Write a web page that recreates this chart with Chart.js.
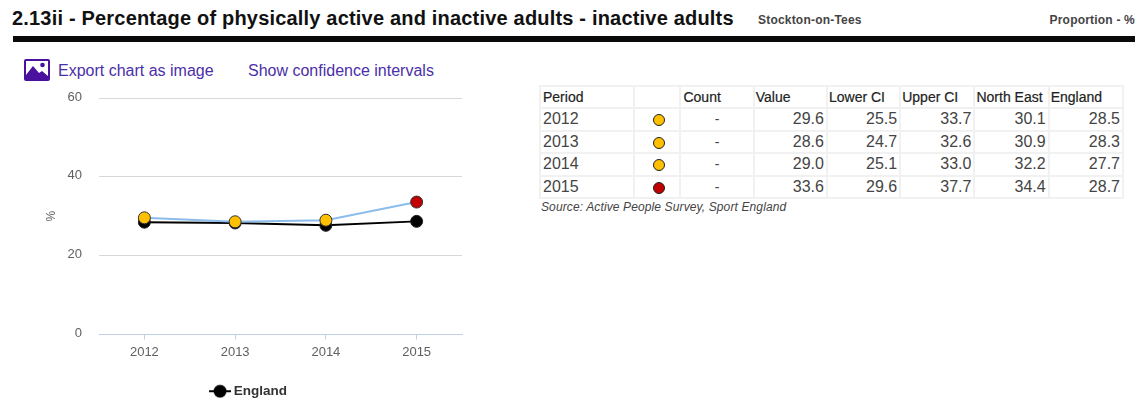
<!DOCTYPE html>
<html><head><meta charset="utf-8">
<script src="https://cdn.jsdelivr.net/npm/chart.js@4"></script>
<style>
html,body{margin:0;padding:0;background:#fff;width:1142px;height:400px;overflow:hidden;font-family:"Liberation Sans",Arial,sans-serif}
.abs{position:absolute;white-space:nowrap}
#title{left:12px;top:6px;font-size:20px;font-weight:bold;color:#111;letter-spacing:.19px;line-height:24px}
#area{left:758px;top:13px;font-size:12px;font-weight:bold;color:#444;line-height:14px;letter-spacing:.2px}
#unit{right:7px;top:13px;font-size:12px;font-weight:bold;color:#444;line-height:14px;letter-spacing:.2px}
#rule{left:13px;top:36px;width:1122px;height:6px;background:#0a0a0a}
.lnk{top:62px;font-size:16px;line-height:18px;color:#4b2fa8}
#icon{left:24px;top:59px}
#cv{position:absolute;left:0;top:68px}
table{position:absolute;left:539px;top:85px;border-collapse:separate;border-spacing:2px;font-size:16px;color:#444;table-layout:fixed;width:585px;background:#f1f1f1}
td,th{background:#fff;padding:0 2px;height:20.6px;line-height:20px;overflow:hidden;white-space:nowrap}
th{font-size:14px;height:19.6px;font-weight:normal;color:#222;text-align:left;-webkit-text-stroke:.2px #222;padding-left:1px}
th:first-child,th:nth-child(3){padding-left:2px}
td.n{text-align:right}td.c{text-align:center}
.dot{display:inline-block;width:10px;height:10px;border-radius:50%;border:1px solid #222;vertical-align:-1px;position:relative;left:2px;top:1px}
td.c{font-size:14px}
#src{left:541px;top:200px;font-size:12px;font-style:italic;color:#444;line-height:14px;letter-spacing:.12px}
</style></head><body>
<div class="abs" id="title">2.13ii - Percentage of physically active and inactive adults - inactive adults</div>
<div class="abs" id="area">Stockton-on-Tees</div>
<div class="abs" id="unit">Proportion - %</div>
<div class="abs" id="rule"></div>
<svg class="abs" id="icon" width="26" height="22" viewBox="0 0 26 22"><rect x="1" y="1" width="24" height="20" fill="#fff" stroke="#4a109e" stroke-width="2" rx="1"/><path d="M2 20V16L9 7l6 7 3-2 6 5v3z" fill="#4a109e"/><circle cx="18.5" cy="6" r="2.3" fill="#4a109e"/></svg>
<div class="abs lnk" style="left:58px">Export chart as image</div>
<div class="abs lnk" style="left:248px">Show confidence intervals</div>
<canvas id="cv" width="480" height="340" style="width:480px;height:340px"></canvas>
<table id="t"></table>
<div class="abs" id="src">Source: Active People Survey, Sport England</div>
<script>
const periods=["2012","2013","2014","2015"];
const counts=["-","-","-","-"];
const values=[29.6,28.6,29.0,33.6];
const lowerCI=[25.5,24.7,25.1,29.6];
const upperCI=[33.7,32.6,33.0,37.7];
const northEast=[30.1,30.9,32.2,34.4];
const england=[28.5,28.3,27.7,28.7];
const pointColours=["#ffc000","#ffc000","#ffc000","#c00000"];
const yTicks=[0,20,40,60];
const headers=["Period","","Count","Value","Lower CI","Upper CI","North East","England"];
const widths=[92,44,71,71,71,72,72,72];

const t=document.getElementById('t');
let h='<colgroup>'+widths.map(w=>`<col style="width:${w}px">`).join('')+'</colgroup><tr>'+headers.map(x=>`<th>${x}</th>`).join('')+'</tr>';
periods.forEach((p,i)=>{h+=`<tr><td>${p}</td><td class="c"><span class="dot" style="background:${pointColours[i]}"></span></td><td class="c">${counts[i]}</td>`+
 [values,lowerCI,upperCI,northEast,england].map(a=>`<td class="n">${a[i].toFixed(1)}</td>`).join('')+'</tr>';});
t.innerHTML=h;

const lg=document.createElement('canvas');lg.width=30;lg.height=14;
{const c=lg.getContext('2d');c.strokeStyle='#000';c.lineWidth=2;c.beginPath();c.moveTo(8,7);c.lineTo(30,7);c.stroke();c.fillStyle='#000';c.beginPath();c.arc(19,7,6.5,0,7);c.fill();}

Chart.defaults.font.family='"Liberation Sans",Arial,sans-serif';
const axisBlue='#c0d0e8';
new Chart(document.getElementById('cv'),{type:'line',
 data:{labels:periods,datasets:[
  {label:'Stockton-on-Tees',data:values,borderColor:'#8cbcec',borderWidth:2,tension:0,pointRadius:6,pointHoverRadius:6,pointBackgroundColor:pointColours,pointBorderColor:'#333',pointBorderWidth:1,order:1},
  {label:'England',data:england,borderColor:'#000',borderWidth:2,tension:0,pointRadius:6,pointBackgroundColor:'#000',pointBorderColor:'#222',pointBorderWidth:1,order:2}
 ]},
 options:{responsive:false,animation:false,
  layout:{padding:{left:30,right:18,top:30,bottom:0}},
  plugins:{tooltip:{enabled:false},title:{display:false},
   legend:{position:'bottom',align:'center',
    labels:{usePointStyle:true,pointStyleWidth:22,boxHeight:14,padding:0,color:'#333',font:{size:13.5,weight:'bold'},
     generateLabels:ch=>[{text:'England',pointStyle:lg,fontColor:'#333',lineWidth:0,strokeStyle:'transparent',fillStyle:'transparent',datasetIndex:1}]}}},
  scales:{
   x:{offset:true,afterFit:a=>{a.height=50},grid:{offset:false,drawOnChartArea:false,drawTicks:true,tickLength:5,color:axisBlue},border:{color:axisBlue,display:true},
      ticks:{color:'#606060',font:{size:13},padding:5,maxRotation:0}},
   y:{min:0,max:60,afterFit:a=>{a.width=69},afterBuildTicks:a=>{a.ticks=yTicks.map(v=>({value:v}))},
      grid:{color:c=>c.tick&&c.tick.value===0?axisBlue:'#d8d8d8',drawTicks:false},border:{display:false},
      title:{display:true,text:'%',color:'#606060',font:{size:12},padding:{top:14,bottom:0}},
      ticks:{color:'#606060',font:{size:13},padding:17,labelOffset:-1}}
  }}});
</script>
</body></html>
